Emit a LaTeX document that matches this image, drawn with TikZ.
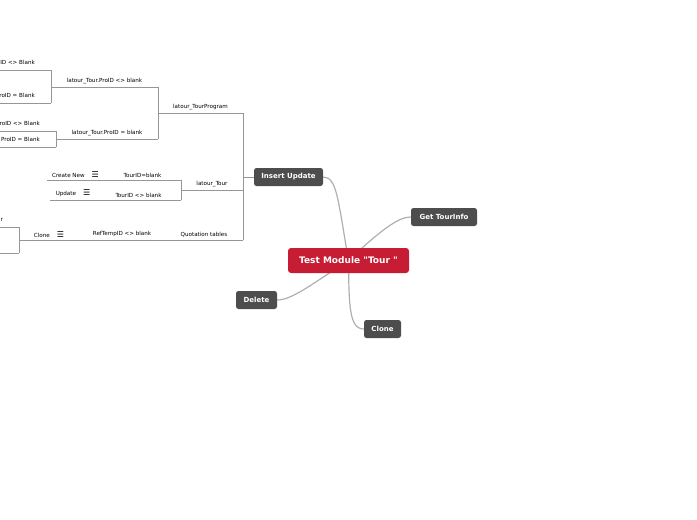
\documentclass[tikz,border=0pt]{standalone}
\usepackage{fontspec}
\setmainfont{DejaVu Sans}[Ligatures=TeXOff]
\usetikzlibrary{positioning,backgrounds}

\definecolor{topicred}{RGB}{198,28,52}
\definecolor{topicgray}{RGB}{77,77,77}
\definecolor{branchgray}{RGB}{150,150,150}
\definecolor{linkgray}{RGB}{175,175,175}

\newcommand{\noteicon}{{\fontsize{8}{8}\selectfont ☰}}

\tikzset{
  maintopic/.style={fill=topicred, rounded corners=3pt, text=white,
    font=\bfseries\fontsize{9}{10}\selectfont, minimum height=25pt, inner sep=0pt},
  subtopic/.style={fill=topicgray, rounded corners=2.5pt, text=white,
    font=\bfseries\fontsize{7}{8}\selectfont, minimum height=18pt, inner sep=0pt},
  leaf/.style={font=\fontsize{5.6}{6}\selectfont, inner sep=0pt, above=2.5pt},
  branch/.style={draw=branchgray, line width=0.7pt},
  link/.style={draw=linkgray, line width=1.2pt},
}

\begin{document}
\begin{tikzpicture}[x=1pt,y=-1pt]
  \useasboundingbox (0,0) rectangle (697,520);
  \clip (0,0) rectangle (697,520);

  % topics
  \node[maintopic, minimum width=121pt] (main)   at (348.5,260.5) {Test Module "Tour "};
  \node[subtopic, minimum width=69pt]  (insert) at (288.5,177) {Insert Update};
  \node[subtopic, minimum width=66pt]  (info)   at (444,217)   {Get TourInfo};
  \node[subtopic, minimum width=41pt]  (delete) at (256.5,300) {Delete};
  \node[subtopic, minimum width=37pt]  (clone)  at (382.5,329) {Clone};

  % links to the main topic
  \begin{pgfonlayer}{background}
    \draw[link] (insert.east) .. controls (337,177) and (338,200) .. (main.center);
    \draw[link] (info.west) .. controls (400,217) and (385,226) .. (main.center);
    \draw[link] (delete.east) .. controls (292,300) and (312,284) .. (main.center);
    \draw[link] (clone.west) .. controls (349,329) and (349,305) .. (main.center);
  \end{pgfonlayer}

  % trunk of Insert Update
  \coordinate (trunk)     at (243,177);
  \coordinate (trunk-top) at (243,113);
  \coordinate (trunk-bot) at (243,240);
  \draw[branch] (insert.west) -- (trunk);
  \draw[branch] (trunk-top) -- (trunk-bot);

  % latour_TourProgram
  \coordinate (prog)     at (158,113);
  \coordinate (prog-top) at (158,87);
  \coordinate (prog-bot) at (158,139);
  \draw[branch] (trunk-top) -- node[leaf] (progtxt) {latour\_TourProgram} (prog);
  \draw[branch] (prog-top) -- (prog-bot);

  \coordinate (nb)     at (51,87);
  \coordinate (nb-top) at (51,70);
  \coordinate (nb-bot) at (51,103);
  \coordinate (nb-a)   at (-5,70);
  \coordinate (nb-b)   at (-5,103);
  \draw[branch] (prog-top) -- node[leaf] (nbtxt) {latour\_Tour.ProID <> blank} (nb);
  \draw[branch] (nb-top) -- (nb-bot);
  \draw[branch] (nb-top) -- (nb-a);
  \draw[branch] (nb-bot) -- (nb-b);
  \node[leaf, anchor=south east] (nbatxt) at (35,67.5) {ProID <> Blank};
  \node[leaf, anchor=south east] (nbbtxt) at (35,100.5) {ProID = Blank};

  \coordinate (eb)     at (56,139);
  \coordinate (eb-top) at (56,131);
  \coordinate (eb-bot) at (56,147);
  \coordinate (eb-a)   at (-5,131);
  \coordinate (eb-b)   at (-5,147);
  \draw[branch] (prog-bot) -- node[leaf] (ebtxt) {latour\_Tour.ProID = blank} (eb);
  \draw[branch] (eb-top) -- (eb-bot);
  \draw[branch] (eb-top) -- (eb-a);
  \draw[branch] (eb-bot) -- (eb-b);
  \node[leaf, anchor=south east] (ebatxt) at (40,128.5) {ProID <> Blank};
  \node[leaf, anchor=south east] (ebbtxt) at (40,144.5) {ProID = Blank};

  % latour_Tour
  \coordinate (tour)     at (181,190);
  \coordinate (tour-top) at (181,180);
  \coordinate (tour-bot) at (181,200);
  \coordinate (tour-a)   at (104,180);
  \coordinate (tour-b)   at (96,200);
  \coordinate (create)   at (47,180);
  \coordinate (update)   at (50,200);
  \draw[branch] (trunk) ++(0,13) coordinate (trunk-tour) -- node[leaf] (tourtxt) {latour\_Tour} (tour);
  \draw[branch] (tour-top) -- (tour-bot);
  \draw[branch] (tour-top) -- node[leaf] (blanktxt) {TourID=blank} (tour-a);
  \draw[branch] (tour-a) -- node[leaf] (createtxt) {Create New\hspace{7pt}\noteicon} (create);
  \draw[branch] (tour-bot) -- node[leaf] (notblanktxt) {TourID <> blank} (tour-b);
  \draw[branch] (tour-b) -- node[leaf] (updatetxt) {Update\hspace{7pt}\noteicon} (update);

  % Quotation tables
  \coordinate (quot)     at (165,240);
  \coordinate (ref)      at (79,240);
  \coordinate (cl)       at (19,240);
  \coordinate (cl-top)   at (19,227);
  \coordinate (cl-bot)   at (19,253);
  \coordinate (cl-a)     at (-5,227);
  \coordinate (cl-b)     at (-5,253);
  \draw[branch] (trunk-bot) -- node[leaf] (quottxt) {Quotation tables} (quot);
  \draw[branch] (quot) -- node[leaf] (reftxt) {RefTempID <> blank} (ref);
  \draw[branch] (ref) -- node[leaf] (cltxt) {Clone\hspace{7pt}\noteicon} (cl);
  \draw[branch] (cl-top) -- (cl-bot);
  \draw[branch] (cl-top) -- (cl-a);
  \draw[branch] (cl-bot) -- (cl-b);
  \node[leaf, anchor=south east] (clatxt) at (3,224.5) {Tour};
\end{tikzpicture}
\end{document}
